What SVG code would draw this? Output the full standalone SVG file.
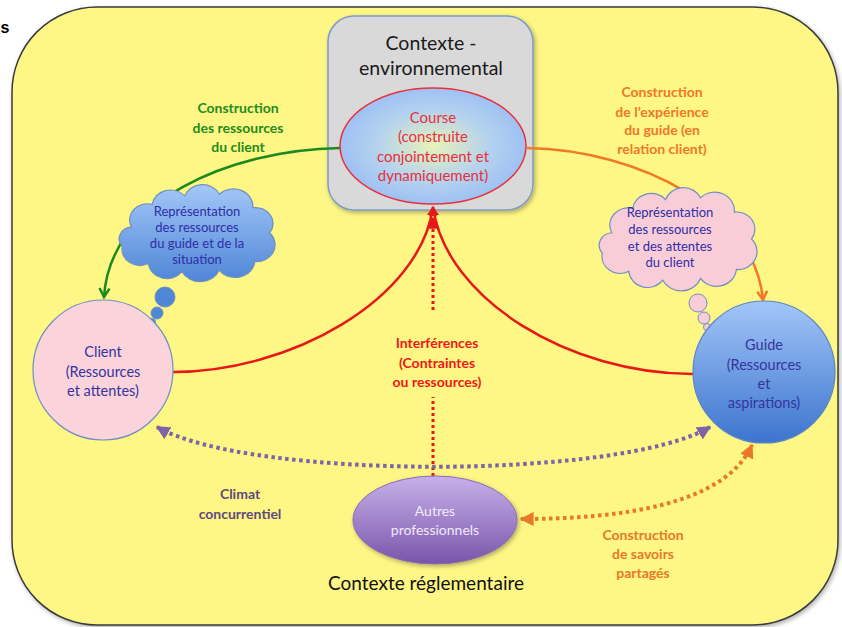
<svg xmlns="http://www.w3.org/2000/svg" width="842" height="627" viewBox="0 0 842 627">
<defs>
<style>
text{font-family:Lato,"Liberation Sans",sans-serif;text-anchor:middle}
.lbl{font-weight:bold;font-size:14px}
.cl{font-size:13px;fill:#2E2EA6}
.nd{font-size:14.5px;fill:#34349E}
.arc{fill:none;stroke-width:2.5}
.dot{fill:none;stroke-width:4;stroke-dasharray:3.5 3.5}
</style>
<radialGradient id="gCourse" cx="0.5" cy="0.5" r="0.55">
<stop offset="0" stop-color="#E8F2B8"/><stop offset="0.55" stop-color="#B5D2EE"/><stop offset="1" stop-color="#98BDF5"/>
</radialGradient>
<linearGradient id="gBlue" x1="0" y1="0" x2="0" y2="1">
<stop offset="0" stop-color="#A4C8F8"/><stop offset="1" stop-color="#4F86D6"/>
</linearGradient>
<linearGradient id="gGuide" x1="0" y1="0" x2="0" y2="1">
<stop offset="0" stop-color="#A3C6F8"/><stop offset="1" stop-color="#3C74CE"/>
</linearGradient>
<linearGradient id="gPurple" x1="0" y1="0" x2="0" y2="1">
<stop offset="0" stop-color="#C7B1EA"/><stop offset="1" stop-color="#7A55AA"/>
</linearGradient>
<filter id="sh" x="-10%" y="-10%" width="120%" height="120%">
<feDropShadow dx="1.5" dy="2" stdDeviation="2" flood-color="#000" flood-opacity="0.3"/>
</filter>
<marker id="aGreen" viewBox="0 0 10 10" refX="8" refY="5" markerWidth="5" markerHeight="5" orient="auto" markerUnits="strokeWidth">
<path d="M1,1 L8,5 L1,9" fill="none" stroke="#1E8A1E" stroke-width="2"/>
</marker>
<marker id="aOrange" viewBox="0 0 10 10" refX="8" refY="5" markerWidth="5" markerHeight="5" orient="auto" markerUnits="strokeWidth">
<path d="M1,1 L8,5 L1,9" fill="none" stroke="#F07A26" stroke-width="2"/>
</marker>
<marker id="aRed" viewBox="0 0 10 10" refX="9" refY="5" markerWidth="4" markerHeight="4" orient="auto" markerUnits="strokeWidth">
<path d="M0,0 L10,5 L0,10 Z" fill="#E81818"/>
</marker>
<marker id="aPurple" viewBox="0 0 10 10" refX="9" refY="5" markerWidth="3.5" markerHeight="3.5" orient="auto-start-reverse" markerUnits="strokeWidth">
<path d="M0,0 L10,5 L0,10 Z" fill="#7E64A6"/>
</marker>
<marker id="aOr2" viewBox="0 0 10 10" refX="9" refY="5" markerWidth="3.5" markerHeight="3.5" orient="auto-start-reverse" markerUnits="strokeWidth">
<path d="M0,0 L10,5 L0,10 Z" fill="#E8782A"/>
</marker>
<path id="cloud" vector-effect="non-scaling-stroke" d="M18,45 A19,19 0 0 1 40,18 A20,20 0 0 1 75,8 A20,20 0 0 1 112,6 A21,21 0 0 1 148,22 A19,19 0 0 1 166,52 A20,20 0 0 1 150,86 A21,21 0 0 1 112,96 A22,22 0 0 1 72,98 A20,20 0 0 1 36,88 A19,19 0 0 1 8,68 A14,14 0 0 1 18,45 Z"/>
</defs>

<rect width="842" height="627" fill="#FFFFFF"/>
<text x="0.5" y="33" style="font-family:'Liberation Sans',sans-serif;font-size:16px;font-weight:bold;text-anchor:start">s</text>

<g id="background">
<rect x="12" y="7" width="826" height="618" rx="85" ry="85" fill="#FEF685" stroke="#3A3A3A" stroke-width="1.5" filter="url(#sh)"/>
</g>

<g id="contexte-env">
<rect x="328" y="16" width="205" height="194" rx="26" ry="26" fill="#D9D9D9" stroke="#7E9CC6" stroke-width="1.5" filter="url(#sh)"/>
<text x="431" y="50" style="font-size:19.5px;fill:#1a1a1a">Contexte -</text>
<text x="431" y="75" style="font-size:19.5px;fill:#1a1a1a">environnemental</text>
</g>

<g id="connectors">
<path class="arc" d="M340,148 C 230,150 110,200 104,297" stroke="#1E8A1E" marker-end="url(#aGreen)"/>
<path class="arc" d="M527,148 C 640,150 755,210 763,300" stroke="#F07A26" marker-end="url(#aOrange)"/>
<path class="arc" d="M173,372 C 290,372 420,300 433,207" stroke="#E81818" marker-end="url(#aRed)"/>
<path class="arc" d="M693,374 C 570,374 446,300 433,207" stroke="#E81818" marker-end="url(#aRed)"/>
<path d="M433,310 L433,218" fill="none" stroke="#E81818" stroke-width="3" stroke-dasharray="3 3" marker-end="url(#aRed)"/>
<path d="M433,476 L433,397" fill="none" stroke="#E81818" stroke-width="3" stroke-dasharray="3 3"/>
<path class="dot" d="M157,427 C 250,480 620,480 710,427" stroke="#7E64A6" marker-start="url(#aPurple)" marker-end="url(#aPurple)"/>
<path class="dot" d="M521,519 C 620,519 725,505 752,445" stroke="#E8782A" marker-start="url(#aOr2)" marker-end="url(#aOr2)"/>
</g>

<g id="course">
<ellipse cx="433" cy="146" rx="93" ry="58" fill="url(#gCourse)" stroke="#E8303A" stroke-width="1.5"/>
<text x="433" y="123" style="font-size:15px;fill:#E8303A">Course</text>
<text x="433" y="142" style="font-size:15px;fill:#E8303A">(construite</text>
<text x="433" y="162" style="font-size:15px;fill:#E8303A">conjointement et</text>
<text x="433" y="181" style="font-size:15px;fill:#E8303A">dynamiquement)</text>
</g>

<g id="cloud-client">
<use href="#cloud" transform="translate(114.8,189.2) scale(0.933,0.842)" fill="url(#gBlue)" stroke="#6E8FC4" stroke-width="1.2"/>
<circle cx="165" cy="297" r="10" fill="#4F86D6" stroke="#6E8FC4"/>
<circle cx="157" cy="313" r="6" fill="#4F86D6" stroke="#6E8FC4"/>
<circle cx="152" cy="322" r="3.5" fill="#4F86D6" stroke="#6E8FC4"/>
<text class="cl" x="197" y="216">Représentation</text>
<text class="cl" x="197" y="232">des ressources</text>
<text class="cl" x="197" y="248">du guide et de la</text>
<text class="cl" x="197" y="264">situation</text>
</g>

<g id="cloud-guide">
<use href="#cloud" transform="translate(594.8,192.5) scale(0.944,0.895)" fill="#F9CDD8" stroke="#6E8FC4" stroke-width="1.2"/>
<circle cx="698" cy="303" r="9" fill="#F9CDD8" stroke="#6E8FC4"/>
<circle cx="704" cy="318" r="6" fill="#F9CDD8" stroke="#6E8FC4"/>
<circle cx="707" cy="327" r="3.5" fill="#F9CDD8" stroke="#6E8FC4"/>
<text class="cl" x="670" y="217">Représentation</text>
<text class="cl" x="670" y="234">des ressources</text>
<text class="cl" x="670" y="251">et des attentes</text>
<text class="cl" x="670" y="267">du client</text>
</g>

<g id="client">
<circle cx="103" cy="370" r="70" fill="#FAD3DB" stroke="#6E8FC4" stroke-width="1.2"/>
<text class="nd" x="103" y="357">Client</text>
<text class="nd" x="103" y="377">(Ressources</text>
<text class="nd" x="103" y="396">et attentes)</text>
</g>

<g id="guide">
<circle cx="764" cy="372" r="71" fill="url(#gGuide)" stroke="#5A84C8" stroke-width="1.2"/>
<text class="nd" x="764" y="350">Guide</text>
<text class="nd" x="764" y="370">(Ressources</text>
<text class="nd" x="764" y="389">et</text>
<text class="nd" x="764" y="408">aspirations)</text>
</g>

<g id="autres">
<ellipse cx="435" cy="520" rx="82" ry="44" fill="url(#gPurple)" stroke="#8A6BB8" stroke-width="1" filter="url(#sh)"/>
<text x="435" y="516" style="font-size:14px;fill:#F2EAFA">Autres</text>
<text x="435" y="535" style="font-size:14px;fill:#F2EAFA">professionnels</text>
</g>

<g id="labels">
<text class="lbl" x="238" y="113" fill="#1E8C1E">Construction</text>
<text class="lbl" x="238" y="133" fill="#1E8C1E">des ressources</text>
<text class="lbl" x="238" y="152" fill="#1E8C1E">du client</text>
<text class="lbl" x="662" y="97" fill="#F07828">Construction</text>
<text class="lbl" x="662" y="117" fill="#F07828">de l’expérience</text>
<text class="lbl" x="662" y="135" fill="#F07828">du guide (en</text>
<text class="lbl" x="662" y="154" fill="#F07828">relation client)</text>
<text class="lbl" x="437" y="348" fill="#F01818">Interférences</text>
<text class="lbl" x="437" y="368" fill="#F01818">(Contraintes</text>
<text class="lbl" x="437" y="387" fill="#F01818">ou ressources)</text>
<text class="lbl" x="240" y="499" fill="#5E4A7E">Climat</text>
<text class="lbl" x="240" y="519" fill="#5E4A7E">concurrentiel</text>
<text class="lbl" x="643" y="540" fill="#E8782A">Construction</text>
<text class="lbl" x="643" y="559" fill="#E8782A">de savoirs</text>
<text class="lbl" x="643" y="578" fill="#E8782A">partagés</text>
<text x="426" y="590" style="font-size:19px;fill:#111">Contexte réglementaire</text>
</g>
</svg>
